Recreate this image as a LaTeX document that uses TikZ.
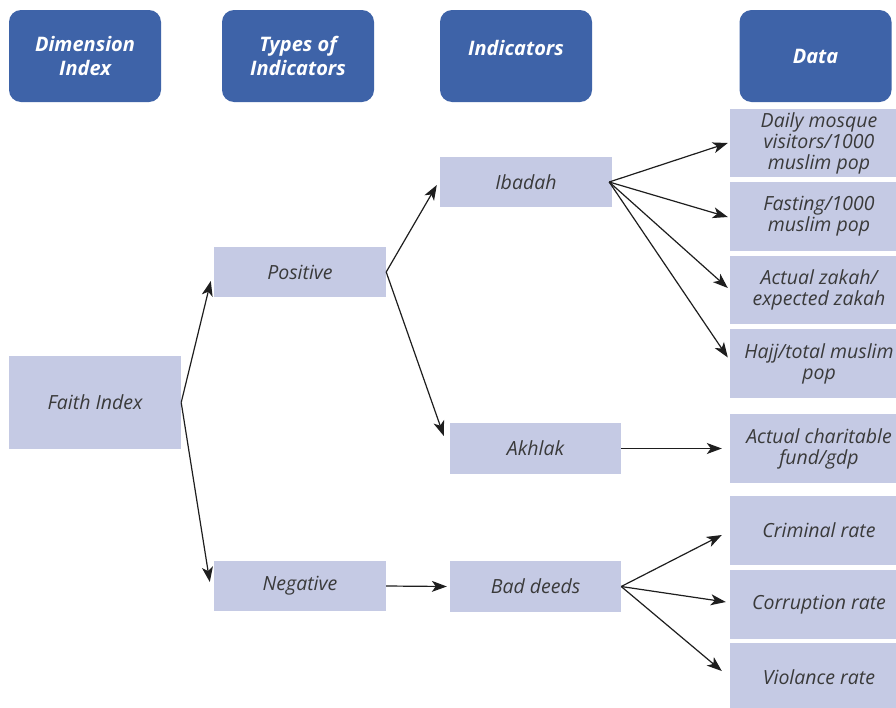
\documentclass[tikz,border=0pt]{standalone}
\usepackage{fontspec}
\setmainfont{Open Sans}
\usetikzlibrary{arrows.meta}
\definecolor{headblue}{HTML}{3E63A8}
\definecolor{boxfill}{HTML}{C5CAE4}
\definecolor{inktext}{HTML}{3A3A3A}
\definecolor{inkline}{HTML}{1E1E1E}
\begin{document}
\begin{tikzpicture}[x=1pt,y=-1pt,
  header/.style={fill=headblue, rounded corners=12pt, inner sep=0pt,
    minimum width=152pt, minimum height=92pt, text=white, align=center,
    font=\fontsize{20}{24}\selectfont\bfseries\itshape},
  item/.style={fill=boxfill, inner sep=0pt, text=inktext, align=center,
    font=\fontsize{19.5}{21}\selectfont\itshape},
  databox/.style={item, minimum width=178pt, minimum height=69pt},
  arr/.style={draw=inkline, line width=1.2pt,
    -{Stealth[length=15pt,width=11pt,inset=4pt]}}]
\clip (0,0) rectangle (896,707);
\fill[white] (0,0) rectangle (896,707);

% column headings
\node[header] (hdim) at (85,56) {Dimension\\Index};
\node[header] (htyp) at (298,56) {Types of\\Indicators};
\node[header] (hind) at (516,56) {\raisebox{16pt}{Indicators}};
\node[header] (hdat) at (815.5,56) {Data};

% dimension, types and indicators
\node[item, minimum width=172pt, minimum height=93pt] (faith) at (95,402.5) {Faith Index};
\node[item, minimum width=172pt, minimum height=50pt] (pos) at (300,272) {Positive};
\node[item, minimum width=172pt, minimum height=50pt] (neg) at (300,586) {\raisebox{-3pt}{Negative}};
\node[item, minimum width=172pt, minimum height=50pt] (ibad) at (526,182) {Ibadah};
\node[item, minimum width=171pt, minimum height=51pt] (akh) at (535.5,448.5) {Akhlak};
\node[item, minimum width=171pt, minimum height=51pt] (bad) at (535.5,586.5) {Bad deeds};

% data sources
\node[databox, minimum height=68pt] (d1) at (819,143) {Daily mosque\\visitors/1000\\muslim pop};
\node[databox] (d2) at (819,216.5) {Fasting/1000\\muslim pop};
\node[databox, minimum height=68pt] (d3) at (819,290) {Actual zakah/\\expected zakah};
\node[databox] (d4) at (819,363.5) {Hajj/total muslim\\pop};
\node[databox] (d5) at (819,448.5) {Actual charitable\\fund/gdp};
\node[databox] (d6) at (819,530.5) {Criminal rate};
\node[databox] (d7) at (819,604.5) {Corruption rate};
\node[databox] (d8) at (819,677.5) {Violance rate};

% connectors
\draw[arr] (faith.east) -- ([shift={(-3,9)}]pos.west);
\draw[arr] (faith.east) -- ([shift={(-4,-4)}]neg.west);
\draw[arr] (pos.east) -- ([shift={(-3,3)}]ibad.west);
\draw[arr] (pos.east) -- ([shift={(-6,-12.5)}]akh.west);
\draw[arr] (neg.east) -- ([shift={(-3,0)}]bad.west);
\draw[arr] ([xshift=-3pt]ibad.east) -- ([shift={(-2,0)}]d1.west);
\draw[arr] ([xshift=-3pt]ibad.east) -- ([shift={(-2,0.5)}]d2.west);
\draw[arr] ([xshift=-3pt]ibad.east) -- ([shift={(-2,-2)}]d3.west);
\draw[arr] ([xshift=-3pt]ibad.east) -- ([shift={(-2,-6)}]d4.west);
\draw[arr] (akh.east) -- ([shift={(-8,0)}]d5.west);
\draw[arr] (bad.east) -- ([shift={(-8,4.5)}]d6.west);
\draw[arr] (bad.east) -- ([shift={(-4,-2.5)}]d7.west);
\draw[arr] (bad.east) -- ([shift={(-8,-6.5)}]d8.west);
\end{tikzpicture}
\end{document}
